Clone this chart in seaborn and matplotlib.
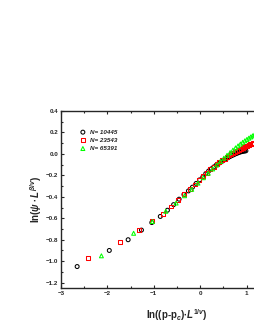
import numpy as np
import pandas as pd
import seaborn as sns
import matplotlib.pyplot as plt
from matplotlib.ticker import MultipleLocator

# values
x_10445 = [-2.652, -1.959, -1.553, -1.266, -1.043, -0.860, -0.706, -0.573, -0.455, -0.350,
           -0.254, -0.167, -0.087, -0.013, 0.056, 0.120, 0.181, 0.238, 0.292, 0.344,
           0.392, 0.439, 0.483, 0.526, 0.567, 0.606, 0.644, 0.680, 0.715, 0.749,
           0.782, 0.814, 0.844, 0.874, 0.903, 0.931, 0.959, 0.985]
y_10445 = [-1.05, -0.90, -0.80, -0.71, -0.64, -0.583, -0.525, -0.473, -0.422, -0.378,
           -0.345, -0.310, -0.275, -0.242, -0.215, -0.184, -0.160, -0.140, -0.122, -0.105,
           -0.091, -0.078, -0.066, -0.054, -0.043, -0.033, -0.024, -0.016, -0.009, -0.002,
           0.004, 0.010, 0.015, 0.019, 0.022, 0.025, 0.027, 0.029]

x_23543 = [-2.419, -1.726, -1.321, -1.033, -0.810, -0.627, -0.473, -0.340, -0.222, -0.117,
           -0.021, 0.066, 0.146, 0.220, 0.289, 0.353, 0.414, 0.471, 0.525, 0.577,
           0.625, 0.672, 0.716, 0.759, 0.800, 0.839, 0.877, 0.913, 0.948, 0.982,
           1.015, 1.047, 1.077, 1.107, 1.136, 1.164, 1.192, 1.218]
y_23543 = [-0.97, -0.82, -0.71, -0.625, -0.56, -0.49, -0.43, -0.375, -0.33, -0.285,
           -0.245, -0.208, -0.175, -0.145, -0.120, -0.098, -0.078, -0.060, -0.044, -0.029,
           -0.015, -0.002, 0.010, 0.021, 0.031, 0.040, 0.049, 0.057, 0.064, 0.071,
           0.078, 0.084, 0.089, 0.094, 0.099, 0.104, 0.108, 0.112]

x_65391 = [-2.129, -1.435, -1.030, -0.742, -0.519, -0.337, -0.183, -0.049, 0.069, 0.174,
           0.269, 0.356, 0.436, 0.510, 0.579, 0.644, 0.705, 0.762, 0.816, 0.867,
           0.916, 0.962, 1.007, 1.049, 1.090, 1.129, 1.167, 1.204, 1.239]
y_65391 = [-0.95, -0.74, -0.63, -0.535, -0.458, -0.39, -0.33, -0.272, -0.222, -0.18,
           -0.14, -0.103, -0.07, -0.04, -0.013, 0.012, 0.035, 0.056, 0.075, 0.092,
           0.108, 0.122, 0.135, 0.147, 0.158, 0.168, 0.177, 0.186, 0.194]

labels = ['N= 10445', 'N= 23543', 'N= 65391']
colors = ['black', '#ff0000', '#00ff00']
markers = ['o', 's', '^']
xticks = [-3, -2, -1, 0, 1]

sns.set_style('ticks')
plt.rcParams['font.family'] = ['Liberation Sans', 'DejaVu Sans']
plt.rcParams['mathtext.fontset'] = 'custom'
plt.rcParams['mathtext.it'] = 'Liberation Sans:italic:bold'
plt.rcParams['mathtext.rm'] = 'Liberation Sans:bold'

fig = plt.figure(figsize=(2.55, 3.3), dpi=100)
# axes runs past the right edge, like the cropped original
ax = fig.add_axes([61 / 255, 42 / 330, 232 / 255, 177 / 330])

series = [(x_10445, y_10445), (x_23543, y_23543), (x_65391, y_65391)]
for (xs, ys), lab, c, m in zip(series, labels, colors, markers):
    df = pd.DataFrame({'x': xs, 'y': ys})
    sns.scatterplot(data=df, x='x', y='y', marker=m, s=8, facecolor='none',
                    edgecolor=c, linewidth=0.75, label=lab, ax=ax)

ax.set_xlim(-3, 2)
ax.set_ylim(-1.25, 0.4)
ax.set_xticks(xticks)
ax.xaxis.set_minor_locator(MultipleLocator(0.5))
ax.yaxis.set_major_locator(MultipleLocator(0.2))
ax.yaxis.set_minor_locator(MultipleLocator(0.1))
ax.tick_params(which='both', direction='in', top=True, right=True, width=0.8)
ax.tick_params(which='major', length=2.5, labelsize=4.5, pad=2)
ax.tick_params(which='minor', length=1.5)
for lbl in ax.get_xticklabels() + ax.get_yticklabels():
    lbl.set_fontweight('bold')
for sp in ax.spines.values():
    sp.set_linewidth(1.0)

ax.set_xlabel(r'ln((p-p$_c$)$\bullet L^{1/v}$)', fontsize=7, fontweight='bold', labelpad=8)
ax.set_ylabel(r'ln($\psi\bullet L^{\beta/v}$)', fontsize=7, fontweight='bold', labelpad=1.5)

leg = ax.legend(loc='upper left', bbox_to_anchor=(0.07, 0.91), frameon=False,
                fontsize=4.5, handletextpad=0.6, labelspacing=0.45, borderaxespad=0,
                handlelength=1.0)
for t in leg.get_texts():
    t.set_fontweight('bold')
    t.set_fontstyle('italic')

fig.savefig('out.png', dpi=100)
